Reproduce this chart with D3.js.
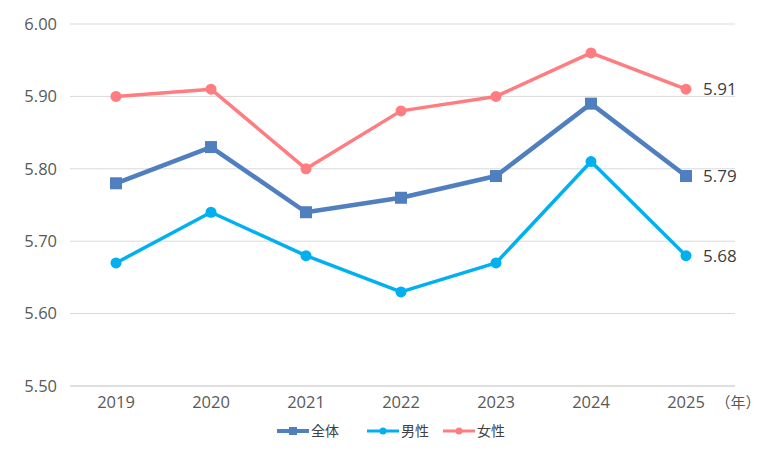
<!DOCTYPE html>
<html><head><meta charset="utf-8">
<script src="https://cdn.jsdelivr.net/npm/d3@7"></script>
<style>body{margin:0;background:#fff;}svg{display:block;font-family:"Open Sans","Noto Sans CJK JP",sans-serif;}</style>
</head><body><svg id="c" width="780" height="455"></svg>
<script>
const years = ["2019","2020","2021","2022","2023","2024","2025"];
const total = [5.78,5.83,5.74,5.76,5.79,5.89,5.79];
const male = [5.67,5.74,5.68,5.63,5.67,5.81,5.68];
const female = [5.90,5.91,5.80,5.88,5.90,5.96,5.91];
const yTicks = [5.50,5.60,5.70,5.80,5.90,6.00];
const seriesNames = ["全体","男性","女性"];
const colors = ["#4f7fbf","#00b0f0","#ff7c80"];

const svg = d3.select("#c");
const x = d3.scaleBand().domain(years).range([68.5,733.5]);
const y = d3.scaleLinear().domain([5.5,6.0]).range([386,24]);

svg.append("g").selectAll("line").data(yTicks).join("line")
  .attr("x1",70).attr("x2",735).attr("y1",d=>y(d)).attr("y2",d=>y(d))
  .attr("stroke",d=>d===5.5?"#bfbfbf":"#d9d9d9").attr("stroke-width",1);
svg.append("g").selectAll("text").data(yTicks).join("text")
  .attr("x",57).attr("y",d=>y(d)).attr("dy","0.35em").attr("text-anchor","end")
  .attr("font-size",16.5).attr("fill","#595959").text(d=>d.toFixed(2));
svg.append("g").selectAll("text").data(years).join("text")
  .attr("x",d=>x(d)+x.bandwidth()/2).attr("y",408).attr("text-anchor","middle")
  .attr("font-size",16.5).attr("fill","#595959").text(d=>d);
svg.append("text").attr("x",738).attr("y",408).attr("text-anchor","middle")
  .attr("font-size",15).attr("fill","#595959").attr("font-family","Noto Sans CJK JP").text("（年）");

const data = [total, male, female];
const cx = d=>x(d)+x.bandwidth()/2;
const line = d3.line().x((d,i)=>cx(years[i])).y(d=>y(d));
[2,1,0].forEach(k=>{
  const g = svg.append("g");
  g.append("path").datum(data[k]).attr("d",line).attr("fill","none")
    .attr("stroke",colors[k]).attr("stroke-width",k===0?4.5:3.5).attr("stroke-linejoin","round");
  if(k===0){
    g.selectAll("rect").data(data[k]).join("rect")
      .attr("x",(d,i)=>cx(years[i])-6).attr("y",d=>y(d)-6).attr("width",12).attr("height",12).attr("fill",colors[k]);
  } else {
    g.selectAll("circle").data(data[k]).join("circle")
      .attr("cx",(d,i)=>cx(years[i])).attr("cy",d=>y(d)).attr("r",5.5).attr("fill",colors[k]);
  }
  const last = data[k][data[k].length-1];
  g.append("text").attr("x",cx(years[6])+17).attr("y",y(last)).attr("dy","0.35em")
    .attr("font-size",17).attr("fill","#404040").text(last.toFixed(2));
});

const lx = [277, 367, 443];
seriesNames.forEach((n,k)=>{
  const g = svg.append("g").attr("transform",`translate(${lx[k]},431)`);
  g.append("line").attr("x1",0).attr("x2",32).attr("stroke",colors[k]).attr("stroke-width",k===0?4:3);
  if(k===0) g.append("rect").attr("x",12).attr("y",-4).attr("width",8).attr("height",8).attr("fill",colors[k]);
  else g.append("circle").attr("cx",16).attr("r",3.5).attr("fill",colors[k]);
  g.append("text").attr("x",34).attr("dy","0.35em").attr("font-size",14).attr("font-family","Noto Sans CJK JP").attr("fill","#404040").text(n);
});
</script></body></html>
